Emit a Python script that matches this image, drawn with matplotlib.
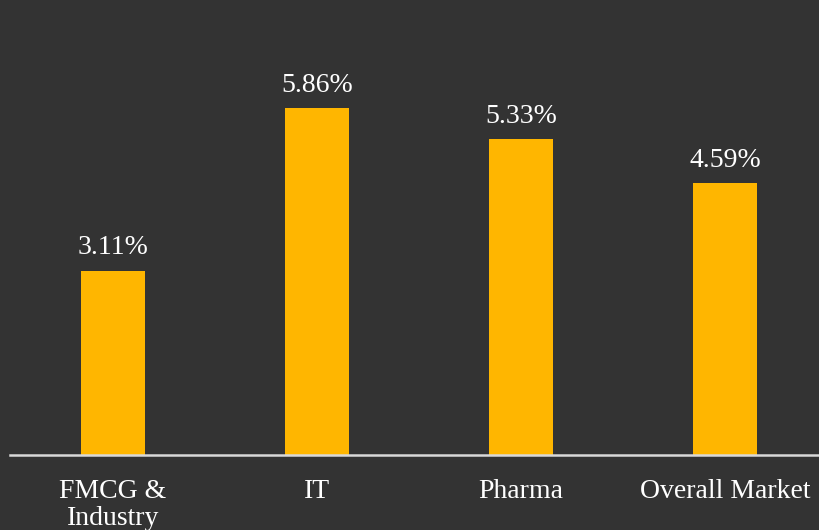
import matplotlib.pyplot as plt

categories = ["FMCG &\nIndustry", "IT", "Pharma", "Overall Market"]
values = [3.11, 5.86, 5.33, 4.59]
value_labels = ["3.11%", "5.86%", "5.33%", "4.59%"]

BG = "#333333"
BAR = "#FFB600"
plt.rcParams["font.family"] = ["Liberation Serif", "DejaVu Serif"]

fig = plt.figure(figsize=(8.2, 5.3), dpi=100, facecolor=BG)
ax = fig.add_axes([10 / 820, 75 / 530, 810 / 820, 455 / 530])
ax.set_facecolor(BG)

x = range(len(categories))
ax.bar(x, values, width=0.314, color=BAR)
for xi, v, lab in zip(x, values, value_labels):
    ax.annotate(lab, (xi, v), xytext=(0, 7.5), textcoords="offset points",
        ha="center", va="bottom", color="white", fontsize=20)

ax.set_xlim(-0.505, 3.466)
ax.set_ylim(0, 455 / 59.2)
ax.set_xticks(list(x), labels=categories, color="white", fontsize=20,
    linespacing=1.15)
ax.tick_params(axis="x", length=0, pad=17)
ax.set_yticks([])
for side in ["top", "right", "left"]:
    ax.spines[side].set_visible(False)
ax.spines["bottom"].set_color("#d9d9d9")
ax.spines["bottom"].set_linewidth(1.8)

fig.savefig("out.png", dpi=100, facecolor=BG)
